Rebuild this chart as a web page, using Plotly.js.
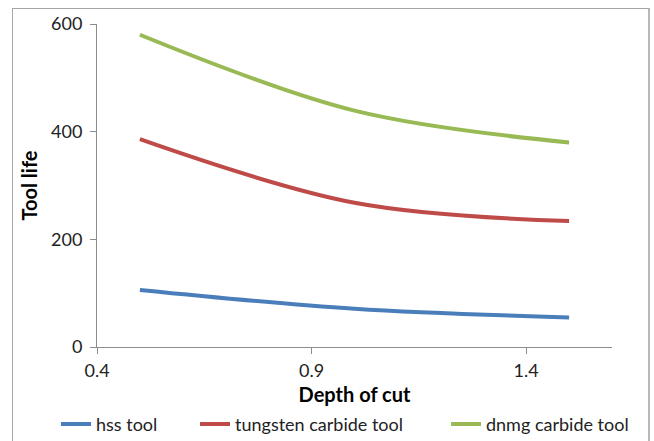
<!DOCTYPE html>
<html>
<head>
<meta charset="utf-8">
<script src="https://cdn.plot.ly/plotly-3.0.1.min.js"></script>
<style>
  html, body { margin: 0; padding: 0; background: #ffffff; }
  #wrap { position: relative; width: 654px; height: 441px; overflow: hidden; }
  #chart { width: 654px; height: 441px; }
  #frame { position: absolute; left: 12px; top: 8px; width: 635px; height: 460px;
           border: 1px solid #a6a6a6; border-right: 2px solid #b8b8b8; pointer-events: none; }
</style>
</head>
<body>
<div id="wrap">
  <div id="chart"></div>
  <div id="frame"></div>
</div>
<script>
const depthOfCut = [0.5, 1.0, 1.5];
const hssTool = [106, 71, 55];
const tungstenCarbideTool = [386, 268, 234];
const dnmgCarbideTool = [580, 439, 380];
const seriesNames = ["hss tool", "tungsten carbide tool", "dnmg carbide tool"];
const seriesColors = ["#4A7EBB", "#BE4B48", "#98B954"];
const xTickVals = [0.4, 0.9, 1.4];
const yTickVals = [0, 200, 400, 600];

const seriesValues = [hssTool, tungstenCarbideTool, dnmgCarbideTool];
const font = "Lato, 'Open Sans', sans-serif";
const legendIds = ["legend", "legend2", "legend3"];
const legendLeftPx = [56, 195, 446];

const traces = seriesValues.map((vals, i) => ({
  x: depthOfCut,
  y: vals,
  name: seriesNames[i],
  type: "scatter",
  mode: "lines",
  legend: legendIds[i],
  line: { color: seriesColors[i], width: 4, shape: "spline", smoothing: 1 }
}));

const axisCommon = {
  showgrid: false,
  zeroline: false,
  showline: true,
  linecolor: "#8c8c8c",
  linewidth: 1,
  ticks: "outside",
  ticklen: 6,
  tickcolor: "#8c8c8c",
  tickfont: { family: font, size: 18, color: "#222222" }
};

const layout = {
  width: 654,
  height: 441,
  margin: { l: 97, r: 42, t: 24, b: 94 },
  paper_bgcolor: "#ffffff",
  plot_bgcolor: "#ffffff",
  showlegend: true,
  xaxis: Object.assign({}, axisCommon, {
    range: [0.4, 1.6],
    tickmode: "array",
    tickvals: xTickVals,
    ticktext: xTickVals.map(v => v.toFixed(1)),
    ticklabelstandoff: 1,
    title: { text: "<b>Depth of cut</b>", font: { family: font, size: 20, color: "#000000" }, standoff: 12 }
  }),
  yaxis: Object.assign({}, axisCommon, {
    range: [0, 600],
    tickmode: "array",
    tickvals: yTickVals,
    ticktext: yTickVals.map(String),
    ticklabelstandoff: 4,
    title: { text: "<b>Tool life</b>", font: { family: font, size: 20, color: "#000000" }, standoff: 8 }
  })
};

legendIds.forEach((id, i) => {
  layout[id] = {
    orientation: "h",
    xref: "container",
    yref: "container",
    x: legendLeftPx[i] / 654, xanchor: "left",
    y: 0.038, yanchor: "middle",
    font: { family: font, size: 18, color: "#222222" },
    bgcolor: "rgba(0,0,0,0)"
  };
});

Plotly.newPlot("chart", traces, layout, { displayModeBar: false, staticPlot: true });
</script>
</body>
</html>
